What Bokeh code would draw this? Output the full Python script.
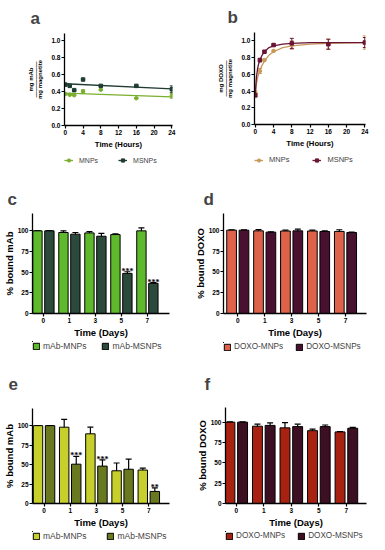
import numpy as np
from bokeh.plotting import figure
from bokeh.models import (Range1d, Legend, LegendItem, Whisker, TeeHead,
                          ColumnDataSource, FixedTicker, LabelSet)
from bokeh.layouts import column, row
from bokeh.embed import file_html
from bokeh.resources import INLINE

FONT = "Liberation Sans"

# ---------------- data ----------------
hours = [0, 1, 2, 4, 8, 16, 24]
hour_ticks = [0, 4, 8, 12, 16, 20, 24]
frac_ticks = [0.0, 0.2, 0.4, 0.6, 0.8, 1.0]

a_mnp = [0.37, 0.36, 0.355, 0.40, 0.42, 0.32, 0.35]
a_mnp_err = [0.0, 0.0, 0.0, 0.02, 0.0, 0.0, 0.03]
a_msnp = [0.48, 0.465, 0.415, 0.54, 0.465, 0.465, 0.425]
a_msnp_err = [0.0, 0.0, 0.0, 0.0, 0.0, 0.0, 0.04]
a_fit_hours = [0, 24]
a_mnp_fit = [0.38, 0.335]
a_msnp_fit = [0.49, 0.43]

b_mnp = [0.38, 0.64, 0.77, 0.88, 0.95, 0.96, 0.98]
b_mnp_err = [0.02, 0.03, 0.01, 0.01, 0.05, 0.06, 0.08]
b_msnp = [0.35, 0.77, 0.87, 0.95, 0.97, 0.96, 0.98]
b_msnp_err = [0.02, 0.02, 0.01, 0.01, 0.06, 0.06, 0.06]
b_fit_hours = [0, 0.1, 0.25, 0.5, 0.75, 1, 1.5, 2, 3, 4, 6, 8, 12, 16, 20, 24]
b_mnp_fit = [0.38, 0.43, 0.49, 0.56, 0.61, 0.65, 0.71, 0.76, 0.83, 0.87,
             0.92, 0.94, 0.96, 0.97, 0.975, 0.98]
b_msnp_fit = [0.35, 0.45, 0.57, 0.67, 0.73, 0.77, 0.83, 0.87, 0.92, 0.94,
              0.96, 0.97, 0.98, 0.98, 0.98, 0.98]

days = ["0", "1", "3", "5", "7"]
pct_ticks = [0, 25, 50, 75, 100]

c_mnp = [100, 98, 97.5, 95.5, 100]
c_mnp_err = [0, 2, 1.5, 1, 3.5]
c_msnp = [100, 96, 93.5, 48.5, 36.5]
c_msnp_err = [0, 2, 3.5, 2, 1]
c_stars = ["", "", "", "***", "***"]

d_mnp = [100, 99.2, 99, 99, 98.5]
d_mnp_err = [0, 1.5, 1, 1, 2]
d_msnp = [100, 97.6, 99.2, 98.4, 97.2]
d_msnp_err = [0, 0.5, 2, 0.8, 0.6]
d_stars = ["", "", "", "", ""]

e_mnp = [100, 98, 89.5, 42, 43]
e_mnp_err = [0, 10, 8.5, 10, 2.5]
e_msnp = [100, 50.5, 48, 44, 15.5]
e_msnp_err = [0, 10, 8, 13, 4.5]
e_stars = ["", "***", "***", "", "**"]

f_mnp = [100, 95, 93, 89.5, 88]
f_mnp_err = [0, 2.5, 6.5, 2, 0.5]
f_msnp = [100, 96, 94.5, 94.5, 92.5]
f_msnp_err = [0, 3, 3, 2, 1]
f_stars = ["", "", "", "", ""]


# ---------------- helpers ----------------
def style_axes(p, tick_size, label_size):
    for ax in (p.xaxis[0], p.yaxis[0]):
        ax.axis_line_color = "black"
        ax.axis_line_width = 1.3
        ax.major_tick_line_color = "black"
        ax.major_tick_line_width = 1.2
        ax.major_tick_out = 3
        ax.major_tick_in = 0
        ax.minor_tick_line_color = None
        ax.major_label_text_font = FONT
        ax.major_label_text_font_style = "bold"
        ax.major_label_text_font_size = tick_size
        ax.major_label_text_color = "black"
        ax.major_label_standoff = 1
        ax.axis_label_text_font = FONT
        ax.axis_label_text_font_style = "bold"
        ax.axis_label_text_font_size = label_size
        ax.axis_label_text_color = "black"
    p.grid.visible = False
    p.outline_line_color = None


def set_title(p, letter, offset, standoff, lift):
    # lift > 0 raises the letter by adding an empty second line of that height
    p.title.text = letter + ("\n" if lift else "")
    p.title.text_font = FONT
    p.title.text_font_size = "17px"
    p.title.text_font_style = "bold"
    p.title.align = "left"
    p.title.offset = offset
    p.title.standoff = standoff
    if lift:
        p.title.text_line_height = lift


def strip(w, h, left, top):
    # legend strip under a panel; its ranges show nothing of the key glyphs
    s = figure(width=w, height=h, x_range=Range1d(1000, 1001), y_range=Range1d(-2, -1),
               x_axis_type=None, y_axis_type=None, output_backend="svg",
               toolbar_location=None, min_border_left=left, min_border_top=top,
               min_border_right=0, min_border_bottom=0)
    s.grid.visible = False
    s.outline_line_color = None
    return s


def line_panel(letter, s1, e1, s2, e2, fx, f1, f2, c1, c2, ylab, dims, xr, yr,
               title_off, title_stand, strip_dims, leg_spacing, leg_font):
    w, h, bl, br, bt, bb = dims
    p = figure(width=w, height=h, x_range=Range1d(*xr), y_range=Range1d(*yr),
               output_backend="svg", toolbar_location=None,
               min_border_left=bl, min_border_right=br,
               min_border_top=bt, min_border_bottom=bb)
    style_axes(p, "6.5px", "7.7px")
    set_title(p, letter, title_off, title_stand, 0)
    p.xaxis.ticker = FixedTicker(ticks=hour_ticks)
    p.yaxis.ticker = FixedTicker(ticks=frac_ticks)
    p.yaxis.major_label_overrides = {t: f"{t:.1f}" for t in frac_ticks}
    p.xaxis.axis_label = "Time (Hours)"
    p.xaxis.axis_label_standoff = 2
    p.yaxis.axis_label = ylab
    p.yaxis.axis_label_text_font_size = "6px"
    p.yaxis.axis_label_text_line_height = 0.8
    p.yaxis.axis_label_standoff = 5

    s = strip(*strip_dims)
    items = []
    for vals, errs, fit, col, name, marker in ((s1, e1, f1, c1, "MNPs", "circle"),
                                               (s2, e2, f2, c2, "MSNPs", "square")):
        src = ColumnDataSource(dict(x=hours, y=vals,
                                    lo=[v - e for v, e in zip(vals, errs)],
                                    hi=[v + e for v, e in zip(vals, errs)]))
        p.line(fx, fit, line_color=col, line_width=1.3)
        wk = Whisker(base="x", upper="hi", lower="lo", source=src, line_color=col,
                     line_width=1,
                     upper_head=TeeHead(size=4, line_color=col, line_width=1),
                     lower_head=TeeHead(size=4, line_color=col, line_width=1))
        p.add_layout(wk)
        p.scatter("x", "y", source=src, marker=marker, size=3.5,
                  fill_color=col, line_color=col)
        lr = s.line(fx, fit, line_color=col, line_width=1.3)
        sr = s.scatter(hours, vals, marker=marker, size=3.5, fill_color=col,
                       line_color=col)
        items.append(LegendItem(label=name, renderers=[lr, sr]))
    leg = Legend(items=items, orientation="horizontal", location="top_left",
                 border_line_alpha=0, background_fill_alpha=0,
                 label_text_font=FONT, label_text_font_size=leg_font,
                 glyph_width=9, glyph_height=8, label_standoff=6,
                 spacing=leg_spacing, padding=0, margin=0, label_height=8,
                 label_width=5)
    s.add_layout(leg)
    return column(p, s, spacing=0)


def bar_panel(letter, m1, e1, m2, e2, stars, c1, c2, names, ylab, dims, xr, yr,
              title_off, title_stand, title_lift, strip_dims, leg_spacing, leg_font):
    w, h, bl, br, bt, bb = dims
    p = figure(width=w, height=h, x_range=Range1d(*xr), y_range=Range1d(*yr),
               output_backend="svg", toolbar_location=None,
               min_border_left=bl, min_border_right=br,
               min_border_top=bt, min_border_bottom=bb)
    style_axes(p, "6.5px", "9.5px")
    set_title(p, letter, title_off, title_stand, title_lift)
    idx = np.arange(len(days))
    p.xaxis.ticker = FixedTicker(ticks=list(idx))
    p.xaxis.major_label_overrides = {int(i): d for i, d in zip(idx, days)}
    p.yaxis.ticker = FixedTicker(ticks=pct_ticks)
    p.xaxis.axis_label = "Time (Days)"
    p.xaxis.axis_label_standoff = 1
    p.yaxis.axis_label = ylab
    p.yaxis.axis_label_standoff = 0
    s = strip(*strip_dims)
    items = []
    for vals, errs, col, name, off in ((m1, e1, c1, names[0], -0.23),
                                       (m2, e2, c2, names[1], 0.23)):
        xs = idx + off
        src = ColumnDataSource(dict(x=xs, y=vals,
                                    lo=[v - e for v, e in zip(vals, errs)],
                                    hi=[v + e for v, e in zip(vals, errs)]))
        p.vbar(x="x", top="y", bottom=0, width=0.36, source=src,
               fill_color=col, line_color="black", line_width=1)
        wk = Whisker(base="x", upper="hi", lower="lo", source=src, line_color="black",
                     line_width=1.2,
                     upper_head=TeeHead(size=6, line_color="black", line_width=1.2),
                     lower_head=TeeHead(size=6, line_color="black", line_width=1.2))
        p.add_layout(wk)
        kr = s.vbar(x=xs, top=vals, bottom=0, width=0.36, fill_color=col,
                    line_color="black", line_width=1)
        items.append(LegendItem(label=name, renderers=[kr]))
    keep = [i for i, t in enumerate(stars) if t]
    if keep:
        star_src = ColumnDataSource(dict(x=[float(idx[i]) + 0.23 for i in keep],
                                         y=[m2[i] + e2[i] for i in keep],
                                         t=[stars[i] for i in keep]))
        p.add_layout(LabelSet(x="x", y="y", text="t", source=star_src,
                              text_align="center", text_baseline="alphabetic",
                              text_font=FONT, text_font_size="8px",
                              text_font_style="bold", text_color="black",
                              y_offset=-2))
    leg = Legend(items=items, orientation="horizontal", location="top_left",
                 border_line_alpha=0, background_fill_alpha=0,
                 label_text_font=FONT, label_text_font_size=leg_font,
                 glyph_width=8, glyph_height=8, label_standoff=3,
                 spacing=leg_spacing, padding=0, margin=0, label_height=9,
                 label_width=5)
    s.add_layout(leg)
    return column(p, s, spacing=0)


# ---------------- panels ----------------
pa = line_panel("a", a_mnp, a_mnp_err, a_msnp, a_msnp_err, a_fit_hours, a_mnp_fit,
                a_msnp_fit, "#7aae2e", "#1f3b33",
                "mg mAb\n\u2014\u2014\u2014\u2014\u2014\u2014\nmg magnetite",
                (184, 152, 36, 12, 32, 27), (-0.18, 24.15), (0, 1.08), -34, 12,
                (184, 28, 64, 4), 20, "7px")
pb = line_panel("b", b_mnp, b_mnp_err, b_msnp, b_msnp_err, b_fit_hours, b_mnp_fit,
                b_msnp_fit, "#c9995a", "#6a1535",
                "mg DOXO\n\u2014\u2014\u2014\u2014\u2014\u2014\nmg magnetite",
                (185, 152, 43, 4, 30, 28), (-0.18, 24.15), (0, 1.1), -27, 11,
                (185, 28, 70, 3), 23, "7.5px")
pc = bar_panel("c", c_mnp, c_mnp_err, c_msnp, c_msnp_err, c_stars, "#5fb92c", "#2c4a3b",
               ["mAb-MNPs", "mAb-MSNPs"], "% bound mAb",
               (184, 160, 24, 15, 33, 27), (-0.42, 4.85), (0, 121), -25, 10, 0,
               (184, 25, 25, 1), 15, "8.5px")
pd = bar_panel("d", d_mnp, d_mnp_err, d_msnp, d_msnp_err, d_stars, "#dd6249", "#4a1030",
               ["DOXO-MNPs", "DOXO-MSNPs"], "% bound DOXO",
               (185, 160, 37, 3, 33, 27), (-0.53, 4.78), (0, 120), -20, 10, 0,
               (185, 25, 39, 2), 12, "8.2px")
pe = bar_panel("e", e_mnp, e_mnp_err, e_msnp, e_msnp_err, e_stars, "#c6cf2c", "#68791f",
               ["mAb-MNPs", "mAb-MSNPs"], "% bound mAb",
               (184, 165, 24, 15, 43, 23), (-0.44, 4.79), (0, 122), -24, 10, 0.5,
               (184, 12, 24, 1), 20, "8.5px")
pf = bar_panel("f", f_mnp, f_mnp_err, f_msnp, f_msnp_err, f_stars, "#a82212", "#3d0f22",
               ["DOXO-MNPs", "DOXO-MSNPs"], "% bound DOXO",
               (185, 165, 41, 3, 42, 24), (-0.39, 4.73), (0, 118), -21, 10, 0.45,
               (185, 12, 39, 1), 12, "8.2px")

layout = column(row(pa, pb, spacing=0), row(pc, pd, spacing=0),
                row(pe, pf, spacing=0), spacing=0)
open("out.html", "w").write(file_html(layout, INLINE))
